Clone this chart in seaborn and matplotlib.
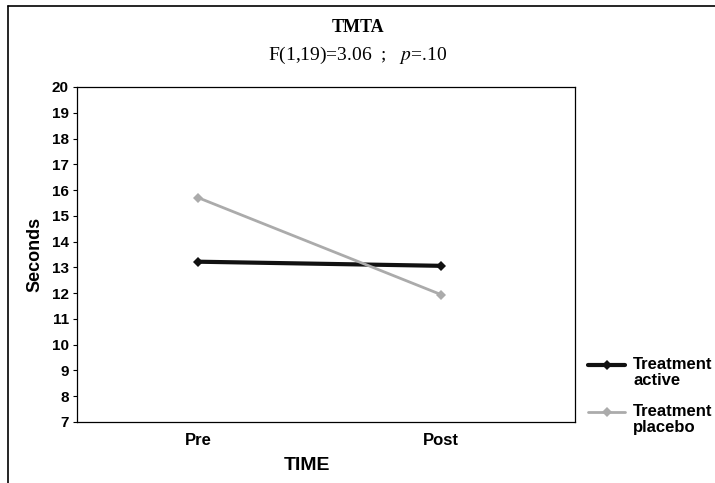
import matplotlib
matplotlib.use("Agg")
import matplotlib.pyplot as plt
import seaborn as sns
import pandas as pd
from matplotlib.lines import Line2D

times = ["Pre", "Post"]
active = [13.22, 13.06]
placebo = [15.70, 11.94]
series_names = ["Treatment\nactive", "Treatment\nplacebo"]
yticks = list(range(7, 21))

df = pd.DataFrame({
    "TIME": times * 2,
    "Seconds": active + placebo,
    "group": [series_names[0]] * 2 + [series_names[1]] * 2,
})
df["x"] = df["TIME"].map({t: i for i, t in enumerate(times)})

sns.set_theme(style="white")
plt.rcParams["font.family"] = ["Liberation Sans", "DejaVu Sans"]
plt.rcParams["mathtext.fontset"] = "stix"
plt.rcParams["text.color"] = "black"
plt.rcParams["axes.labelcolor"] = "black"
plt.rcParams["xtick.color"] = "black"
plt.rcParams["ytick.color"] = "black"

fig = plt.figure(figsize=(7.15, 4.83), dpi=100)
ax = fig.add_axes([0.1077, 0.1263, 0.6963, 0.6936])

palette = {series_names[0]: "#111111", series_names[1]: "#ababab"}
sizes = {series_names[0]: 3.0, series_names[1]: 2.0}
sns.lineplot(data=df, x="x", y="Seconds", hue="group", palette=palette,
             size="group", sizes=sizes, marker="D", markersize=5,
             markeredgewidth=0, ax=ax, legend=False)

ax.set_xlim(-0.5, 1.55)
ax.set_ylim(7, 20)
ax.set_xticks([0, 1])
ax.set_xticklabels(times, fontweight="bold", fontsize=12)
ax.set_yticks(yticks)
ax.set_yticklabels([str(v) for v in yticks], fontweight="bold", fontsize=11)
ax.tick_params(axis="y", length=3, width=0.8, direction="out", left=True, pad=3)
ax.tick_params(axis="x", length=0, pad=8)
for s in ax.spines.values():
    s.set_color("black")
    s.set_linewidth(0.9)
ax.set_xlabel("TIME", fontsize=14, fontweight="bold")
ax.xaxis.set_label_coords(0.462, -0.105)
ax.set_ylabel("Seconds", fontsize=13, fontweight="bold", labelpad=6)

fig.text(0.5, 0.944, "TMTA", ha="center", va="center", fontsize=13,
         fontweight="bold", family=["Liberation Serif", "DejaVu Serif"])
fig.text(0.5, 0.886, r"F(1,19)=3.06  ;   $p$=.10", ha="center", va="center",
         fontsize=14, family=["Liberation Serif", "DejaVu Serif"])

# legend (outside right), handle aligned with first text line
W, H = 715.0, 483.0
leg_rows = [365, 412]
for name, yy in zip(series_names, leg_rows):
    fig.add_artist(Line2D([588 / W, 625 / W], [1 - yy / H, 1 - yy / H],
                          color=palette[name], lw=sizes[name],
                          transform=fig.transFigure))
    fig.add_artist(Line2D([606.5 / W], [1 - yy / H], color=palette[name],
                          marker="D", markersize=5, markeredgewidth=0,
                          transform=fig.transFigure))
    fig.text(633 / W, 1 - (yy - 8) / H, name, ha="left", va="top",
             fontsize=12, fontweight="bold", linespacing=1.1)

# scan frame lines
fig.add_artist(Line2D([0.011, 0.011], [0.0, 0.988], color="black", lw=1.2,
                      transform=fig.transFigure))
fig.add_artist(Line2D([0.011, 1.0], [0.988, 0.988], color="black", lw=1.2,
                      transform=fig.transFigure))

fig.savefig("out.png", dpi=100)
